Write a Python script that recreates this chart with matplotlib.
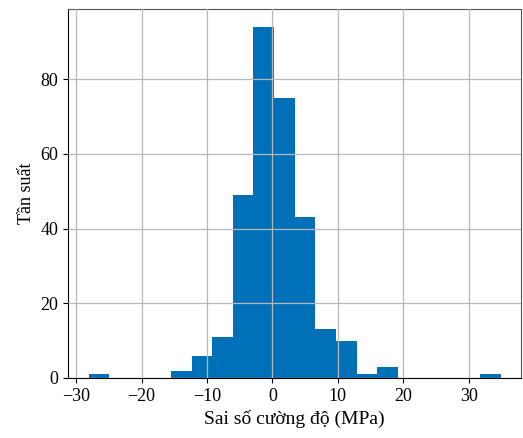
import numpy as np
import matplotlib.pyplot as plt

plt.rcParams['font.family'] = ['Liberation Serif', 'DejaVu Serif']

# Histogram data (20 bins)
bin_start = -28.1
bin_end = 34.9
counts = [1, 0, 0, 0, 2, 6, 11, 49, 94, 75, 43, 13, 10, 1, 3, 0, 0, 0, 0, 1]

edges = np.linspace(bin_start, bin_end, len(counts) + 1)
centers = (edges[:-1] + edges[1:]) / 2

fig = plt.figure(figsize=(5.23, 4.38), dpi=100)
ax = fig.add_axes([0.130, 0.137, 0.867, 0.842])
ax.hist(centers, bins=edges, weights=counts, color='#0070b8')
ax.grid(True, color='#b8b8b8', linewidth=0.9)
ax.set_axisbelow(False)
for side in ['top', 'right']:
    ax.spines[side].set_color('#555555')
ax.set_xticks([-30, -20, -10, 0, 10, 20, 30])
ax.set_yticks([0, 20, 40, 60, 80])
ax.tick_params(labelsize=13)
ax.set_xlabel('Sai số cường độ (MPa)', fontsize=14)
ax.set_ylabel('Tần suất', fontsize=13)
fig.savefig('out.png', dpi=100)
